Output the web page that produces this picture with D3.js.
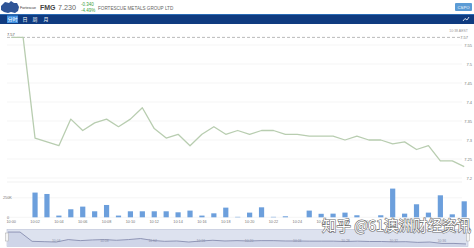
<!DOCTYPE html>
<html><head><meta charset="utf-8">
<script src="https://cdn.jsdelivr.net/npm/d3@7"></script>
<style>html,body{margin:0;padding:0;background:#fff;overflow:hidden}svg{display:block;font-family:"Liberation Sans",Arial,sans-serif}</style>
</head><body><svg id="c" width="474" height="248"></svg>
<script>
const minutes = d3.range(0, 39);
const timeLabels = ["10:00","10:02","10:04","10:06","10:08","10:10","10:12","10:14","10:16","10:18","10:20","10:22","10:24","10:26","10:28","10:30","10:32","10:34","10:36","10:38"];
const prices = [7.57,7.57,7.305,7.295,7.285,7.355,7.325,7.345,7.355,7.335,7.355,7.385,7.33,7.305,7.315,7.285,7.315,7.335,7.315,7.325,7.315,7.325,7.325,7.315,7.315,7.31,7.31,7.31,7.30,7.31,7.30,7.30,7.29,7.295,7.275,7.285,7.245,7.245,7.23];
const volumes = [0,0,317,299,22,103,137,77,158,22,77,77,77,77,64,86,22,51,124,6,60,128,6,13,0,86,45,47,60,26,0,26,368,47,167,60,282,38,205];
const priceTicks = [7.55,7.5,7.45,7.4,7.35,7.3,7.25,7.2];
const volTicks = [0,250];
const prevClose = 7.57;

const svg = d3.select("#c");
// header
const logo = svg.append("g");
logo.append("path").attr("d","M1,6 L5,2 L9,3 L11,1 L14,3 L17,3 L19,7 L18,11 L15,13 L11,12 L8,13 L4,12 L1,10 Z").attr("fill","#2f5597");
logo.append("text").attr("x",20).attr("y",9).attr("font-size",3.6).attr("fill","#333").text("Fortescue");
svg.append("text").attr("x",40).attr("y",10).attr("font-size",7).attr("font-weight","bold").attr("fill","#444").text("FMG");
svg.append("text").attr("x",58).attr("y",10).attr("font-size",7.2).attr("fill","#666").text("7.230");
svg.append("text").attr("x",81).attr("y",6).attr("font-size",4.5).attr("fill","#3aa13a").text("-0.340");
svg.append("text").attr("x",81).attr("y",12).attr("font-size",4.5).attr("fill","#3aa13a").text("-4.49%");
svg.append("text").attr("x",98).attr("y",9.5).attr("font-size",4.6).attr("fill","#666").text("FORTESCUE METALS GROUP LTD");
svg.append("rect").attr("x",455).attr("y",3).attr("width",17).attr("height",8).attr("rx",1).attr("fill","#5b9bd5");
svg.append("text").attr("x",463.5).attr("y",8.8).attr("text-anchor","middle").attr("font-size",4.2).attr("fill","#fff").text("CSPO");
// nav bar
svg.append("rect").attr("x",0).attr("y",14).attr("width",474).attr("height",10).attr("fill","#0f3b80");
svg.append("rect").attr("x",0).attr("y",14).attr("width",474).attr("height",1).attr("fill","#2a6bb5");
svg.append("rect").attr("x",7).attr("y",15.5).attr("width",11).attr("height",7.5).attr("fill","#3d8fe0");
const tabs = [["分时",12.5],["日",25],["周",35],["月",46]];
tabs.forEach(t=>svg.append("text").attr("x",t[1]).attr("y",21.3).attr("text-anchor","middle").attr("font-size",5).attr("font-family","Noto Sans CJK SC").attr("fill","#fff").text(t[0]));
svg.append("path").attr("d","M463,21 L465,18.5 L467,20 L469,17").attr("fill","none").attr("stroke","#fff").attr("stroke-width",0.8);

// scales
const x = d3.scaleLinear().domain([0,38]).range([11.2,464.2]);
const y = d3.scaleLinear().domain([7.2,7.55]).range([178,45]);
const plotL = 7, plotR = 462;
// price grid
svg.append("g").selectAll("line").data(priceTicks).join("line")
  .attr("x1",plotL).attr("x2",plotR).attr("y1",d=>y(d)).attr("y2",d=>y(d)).attr("stroke","#eeeeee").attr("stroke-width",0.6);
svg.append("g").selectAll("text").data(priceTicks).join("text")
  .attr("x",472).attr("y",d=>y(d)+1.5).attr("text-anchor","end").attr("font-size",4).attr("fill","#777").text(d=>String(+d.toFixed(2)));
// prev close dashed
svg.append("line").attr("x1",plotL).attr("x2",plotR).attr("y1",y(prevClose)).attr("y2",y(prevClose))
  .attr("stroke","#aaa").attr("stroke-width",0.8).attr("stroke-dasharray","3,2");
svg.append("text").attr("x",7).attr("y",y(prevClose)-1.5).attr("font-size",4).attr("fill","#555").text("7.57");
svg.append("text").attr("x",468).attr("y",32).attr("text-anchor","end").attr("font-size",3.5).attr("fill","#999").text("10:38 AEST");
svg.append("text").attr("x",468).attr("y",y(prevClose)+1.5).attr("text-anchor","end").attr("font-size",4).attr("fill","#777").text("7.57");
// price line
const line = d3.line().x((d,i)=>x(minutes[i])).y(d=>y(d));
svg.append("path").datum(prices).attr("d",line).attr("fill","none").attr("stroke","#b8cdb0").attr("stroke-width",1.3).attr("stroke-linejoin","round");

// volume panel
svg.append("line").attr("x1",plotL).attr("x2",plotR).attr("y1",182).attr("y2",182).attr("stroke","#e8e8e8").attr("stroke-width",0.6);
const yv = d3.scaleLinear().domain([0,250]).range([217.3,197.8]);
svg.append("g").selectAll("line").data(volTicks).join("line")
  .attr("x1",plotL).attr("x2",plotR).attr("y1",d=>yv(d)).attr("y2",d=>yv(d)).attr("stroke","#eeeeee").attr("stroke-width",0.6);
svg.append("g").selectAll("text").data(volTicks).join("text")
  .attr("x",d=>d?3:7).attr("y",d=>yv(d)+1.3).attr("font-size",3.8).attr("fill","#777").text(d=>d?d+"K":"0");
svg.append("g").selectAll("rect").data(volumes).join("rect")
  .attr("x",(d,i)=>x(minutes[i])-2.6).attr("width",5.2)
  .attr("y",d=>yv(d)).attr("height",d=>yv(0)-yv(d)).attr("fill","#6c9fdc");
svg.append("g").selectAll("text").data(timeLabels).join("text")
  .attr("x",(d,i)=>x(i*2)).attr("y",223).attr("text-anchor","middle").attr("font-size",3.8).attr("fill","#777").text(d=>d);

// navigator
const nx = d3.scaleLinear().domain([0,38]).range([8,466]);
const ny = d3.scaleLinear().domain([7.2,7.6]).range([245,231]);
svg.append("rect").attr("x",0).attr("y",229).attr("width",474).attr("height",19).attr("fill","#ffffff");
svg.append("rect").attr("x",7).attr("y",229.5).attr("width",461).attr("height",17).attr("fill","#dde2ef").attr("stroke","#b9c0d6").attr("stroke-width",0.6);
const area = d3.area().x((d,i)=>nx(minutes[i])).y0(246.5).y1(d=>ny(d));
svg.append("path").datum(prices).attr("d",area).attr("fill","#cfd5e8");
svg.append("path").datum(prices).attr("d",d3.line().x((d,i)=>nx(minutes[i])).y(d=>ny(d))).attr("fill","none").attr("stroke","#7e84a8").attr("stroke-width",0.8);
svg.append("g").selectAll("text").data([4,8,12,16,20,24,28,32,36]).join("text")
  .attr("x",d=>nx(d)).attr("y",242).attr("text-anchor","middle").attr("font-size",3.4).attr("fill","#8a8fa8")
  .text(d=>"10:"+String(d).padStart(2,"0"));
svg.append("rect").attr("x",5.5).attr("y",233).attr("width",3).attr("height",8).attr("fill","#f4f4f4").attr("stroke","#999").attr("stroke-width",0.4);
svg.append("rect").attr("x",466.5).attr("y",233).attr("width",3).attr("height",8).attr("fill","#f4f4f4").attr("stroke","#999").attr("stroke-width",0.4);

// watermark
svg.append("text").attr("x",322).attr("y",231).attr("font-size",14.5).attr("font-family","Noto Sans CJK SC")
  .attr("fill","#fff").attr("stroke","#666").attr("stroke-width",1.2).attr("paint-order","stroke").attr("opacity",0.95).text("知乎 @61澳洲财经资讯");
</script></body></html>
